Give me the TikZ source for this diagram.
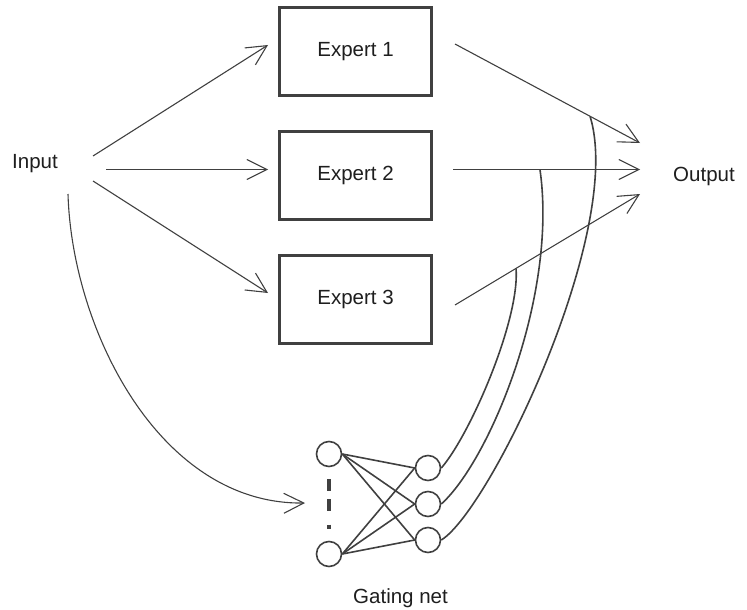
\documentclass[tikz,border=0pt]{standalone}
\usepackage{fontspec}
\setmainfont{Liberation Sans}
\usetikzlibrary{arrows.meta,calc}

\definecolor{ink}{HTML}{404040}
\definecolor{txt}{HTML}{1E1E1E}

\tikzset{
  expert/.style={draw=ink, line width=2.2pt, minimum width=152pt, minimum height=88pt,
                 inner sep=0pt, text=txt, font=\fontsize{20.5}{24}\selectfont},
  lbl/.style={inner sep=0pt, text=txt, font=\fontsize{20.5}{24}\selectfont},
  unit/.style={circle, draw=ink, line width=1.6pt, minimum size=25pt, inner sep=0pt},
  feed/.style={draw=ink, line width=1.1pt, -{Straight Barb[length=20pt,width=20pt]}},
  wire/.style={draw=ink, line width=1.6pt},
  gatecurve/.style={draw=ink, line width=1.6pt},
  dotmark/.style={draw=ink, line width=4pt}
}

\begin{document}
\begin{tikzpicture}[x=1pt, y=-1pt]
  \useasboundingbox (0,0) rectangle (747,610);

  % experts
  \node[expert] (e1) at (355.5,51.5)  {Expert 1};
  \node[expert] (e2) at (355.5,175.5) {Expert 2};
  \node[expert] (e3) at (355.5,299.5) {Expert 3};

  % labels
  \node[lbl, anchor=base west] (in)   at (12,168)  {Input};
  \node[lbl, anchor=base west] (out)  at (673,181) {Output};
  \node[lbl, anchor=base west] (gate) at (353,603) {Gating net};

  % gating network units
  \node[unit] (l1) at (329,454) {};
  \node[unit] (l2) at (329,554) {};
  \node[unit] (r1) at (428,468) {};
  \node[unit] (r2) at (428,504) {};
  \node[unit] (r3) at (428,540) {};

  % connector end points
  \coordinate (ia) at (93,156);
  \coordinate (ib) at (106,169.5);
  \coordinate (ic) at (93,181);
  \coordinate (id) at (68,194);
  \coordinate (ta) at (268,45);
  \coordinate (tb) at (268,169.5);
  \coordinate (tc) at (268,293);
  \coordinate (td) at (305,503);
  \coordinate (oa) at (455,44);
  \coordinate (ob) at (453,169.5);
  \coordinate (oc) at (455,305);
  \coordinate (pa) at (640,143);
  \coordinate (pb) at (640,169.5);
  \coordinate (pc) at (640,194);

  % input to experts
  \draw[feed] (ia) -- (ta);
  \draw[feed] (ib) -- (tb);
  \draw[feed] (ic) -- (tc);

  % input to gating net
  \draw[feed] (id) .. controls (72,330) and (160,505) .. (td);

  % experts to output
  \draw[feed] (oa) -- (pa);
  \draw[feed] (ob) -- (pb);
  \draw[feed] (oc) -- (pc);

  % gate outputs meeting the expert outputs
  \coordinate (g1) at ($(oc)!0.33!(pc)$);
  \coordinate (g2) at ($(ob)!0.465!(pb)$);
  \coordinate (g3) at ($(oa)!0.73!(pa)$);
  \draw[gatecurve] (r1.east) .. controls (470,435) and (520,320) .. (g1);
  \draw[gatecurve] (r2.east) .. controls (490,460) and (558,295) .. (g2);
  \draw[gatecurve] (r3.east) .. controls (490,510) and (625,230) .. (g3);

  % fully connected layer
  \foreach \a in {l1,l2}
    \foreach \b in {r1,r2,r3}
      \draw[wire] (\a.east) -- (\b.west);

  % vertical ellipsis between input units
  \draw[dotmark] (329,479) -- (329,491);
  \draw[dotmark] (329,499) -- (329,511);
  \draw[dotmark] (329,524.5) -- (329,528.5);
\end{tikzpicture}
\end{document}
